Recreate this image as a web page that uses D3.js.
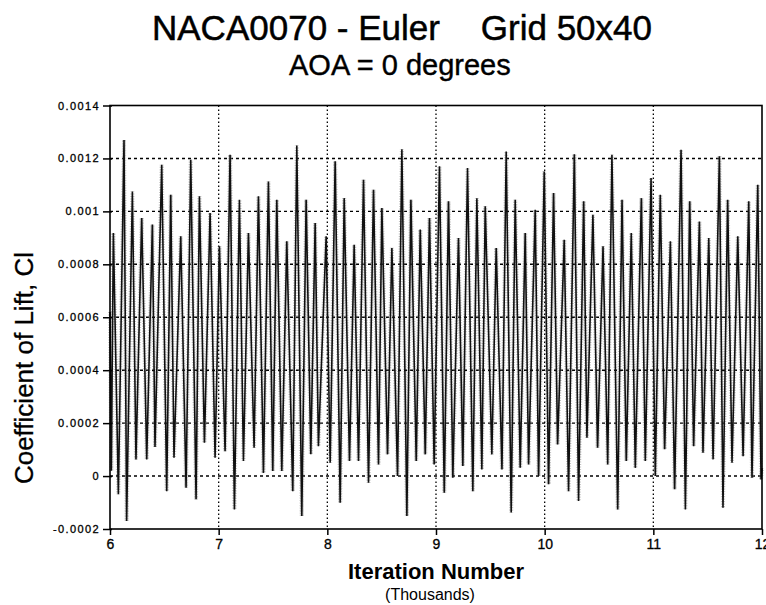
<!DOCTYPE html>
<html><head><meta charset="utf-8">
<script src="https://cdn.jsdelivr.net/npm/d3@7"></script>
<style>body{margin:0;background:#fff} svg{display:block}</style>
</head><body><svg id="c" width="766" height="605"></svg>
<script>
const titleLeft = "NACA0070 - Euler";
const titleRight = "Grid 50x40";
const subtitle = "AOA = 0 degrees";
const xLabel = "Iteration Number";
const xSubLabel = "(Thousands)";
const yLabel = "Coefficient of Lift, Cl";

const xTicks = [6, 7, 8, 9, 10, 11, 12];
const xTickLabels = ["6", "7", "8", "9", "10", "11", "12"];
const yTicks = [-0.0002, 0, 0.0002, 0.0004, 0.0006, 0.0008, 0.001, 0.0012, 0.0014];
const yTickLabels = ["-0.0002", "0", "0.0002", "0.0004", "0.0006", "0.0008", "0.001", "0.0012", "0.0014"];

// iteration (thousands) of successive extremes of the signal
const iterK = [6.000, 6.012, 6.031, 6.077, 6.129, 6.153, 6.206, 6.239, 6.292, 6.338,
  6.390, 6.414, 6.476, 6.522, 6.559, 6.589, 6.651, 6.700, 6.743, 6.792,
  6.823, 6.869, 6.921, 6.967, 7.007, 7.059, 7.105, 7.145, 7.191, 7.228,
  7.274, 7.326, 7.366, 7.412, 7.458, 7.498, 7.535, 7.581, 7.627, 7.682,
  7.719, 7.765, 7.805, 7.848, 7.888, 7.918, 7.989, 8.026, 8.072, 8.118,
  8.155, 8.204, 8.247, 8.287, 8.333, 8.379, 8.425, 8.471, 8.502, 8.554,
  8.594, 8.646, 8.686, 8.732, 8.769, 8.818, 8.855, 8.901, 8.940, 8.983,
  9.032, 9.076, 9.115, 9.155, 9.207, 9.247, 9.290, 9.339, 9.376, 9.422,
  9.453, 9.514, 9.554, 9.607, 9.646, 9.692, 9.729, 9.775, 9.821, 9.852,
  9.913, 9.944, 9.996, 10.036, 10.082, 10.119, 10.180, 10.220, 10.273, 10.312,
  10.359, 10.389, 10.444, 10.487, 10.537, 10.580, 10.619, 10.672, 10.712, 10.751,
  10.797, 10.834, 10.890, 10.926, 10.979, 11.018, 11.064, 11.104, 11.157, 11.196,
  11.255, 11.295, 11.335, 11.371, 11.424, 11.457, 11.510, 11.550, 11.608, 11.641,
  11.684, 11.724, 11.777, 11.826, 11.878, 11.908, 11.961, 11.991, 12.000];

// coefficient of lift at those extremes
const cl = [0.00062, 0.00002, 0.000918, -0.000069, 0.00127, -0.00017, 0.001075, 0.000063, 0.000975, 0.000063,
  0.00095, 0.00011, 0.001176, -0.000057, 0.001063, 0.000069, 0.000906, -0.000044, 0.001195, -0.000088,
  0.001057, 0.000126, 0.000994, 0.000069, 0.000868, 0.000094, 0.001214, -0.000126, 0.001044, 0.000057,
  0.000918, 0.000107, 0.001057, 0.000012, 0.001113, 0.000019, 0.001044, 0.000019, 0.000887, -0.000057,
  0.001249, -0.000151, 0.001044, 0.000082, 0.000956, 0.000113, 0.000906, 0.00005, 0.001189, -0.000101,
  0.00105, 0.000057, 0.000874, 0.000057, 0.001119, -0.000025, 0.001082, 0.000044, 0.001013, 0.000082,
  0.000862, 0.0, 0.001235, -0.000151, 0.001044, 0.000057, 0.000931, 0.000082, 0.000975, 0.000044,
  0.00117, -0.000063, 0.001038, -0.000006, 0.000899, 0.000038, 0.001164, -0.000057, 0.00105, 0.000025,
  0.001019, 0.000082, 0.000862, 0.000025, 0.001226, -0.000138, 0.001044, 0.000031, 0.000918, 0.000044,
  0.001006, 0.0, 0.001151, -0.000031, 0.001069, 0.000119, 0.000893, -0.000057, 0.001216, -0.000094,
  0.001038, 0.000145, 0.000987, 0.000107, 0.000868, 0.000044, 0.001214, -0.000126, 0.001044, 0.000057,
  0.000918, 0.000031, 0.00105, 0.000057, 0.001126, 0.0, 0.001063, 0.000101, 0.000887, -0.00005,
  0.001233, -0.000126, 0.001038, 0.000113, 0.000962, 0.000088, 0.000899, 0.000063, 0.001208, -0.00012,
  0.001044, 0.00005, 0.000906, 0.000075, 0.001038, -0.000006, 0.001101, -0.000013, 0.00003];

const svg = d3.select("#c");
const m = {left: 110, right: 762, top: 105.5, bottom: 529};
const font = "'Liberation Sans', Arial, Helvetica, sans-serif";

const x = d3.scaleLinear().domain([6, 12]).range([m.left, m.right]);
const y = d3.scaleLinear().domain([-0.0002, 0.0014]).range([m.bottom, m.top]);

// grid lines
const grid = svg.append("g");
grid.selectAll("line.h").data(yTicks.filter(v => v > -0.0002 && v < 0.0014)).join("line")
  .attr("x1", m.left).attr("x2", m.right)
  .attr("y1", d => y(d)).attr("y2", d => y(d))
  .attr("stroke", "#000").attr("stroke-width", 1.4).attr("stroke-dasharray", "3,3");
grid.selectAll("line.v").data(xTicks.filter(v => v > 6 && v < 12)).join("line")
  .attr("y1", m.top).attr("y2", m.bottom)
  .attr("x1", d => x(d)).attr("x2", d => x(d))
  .attr("stroke", "#000").attr("stroke-width", 1.3).attr("stroke-dasharray", "1.5,2.5");

// series: dotted grey halo (scan texture) under a solid dark trace
const pts = iterK.map((t, i) => [t, cl[i]]);
const line = d3.line().x(d => x(d[0])).y(d => y(d[1]));
svg.append("path").datum(pts)
  .attr("d", line).attr("fill", "none")
  .attr("stroke", "#777").attr("stroke-width", 4).attr("stroke-opacity", 0.45)
  .attr("stroke-dasharray", "1,1.5");
svg.append("path").datum(pts)
  .attr("d", line).attr("fill", "none")
  .attr("stroke", "#111").attr("stroke-width", 1.6).attr("stroke-linejoin", "miter");

// frame
svg.append("rect").attr("x", m.left).attr("y", m.top)
  .attr("width", m.right - m.left).attr("height", m.bottom - m.top)
  .attr("fill", "none").attr("stroke", "#000").attr("stroke-width", 1.6);

// y axis
const yAxis = d3.axisLeft(y).tickValues(yTicks)
  .tickFormat((d, i) => yTickLabels[i]).tickSize(7).tickPadding(3);
const gy = svg.append("g").attr("transform", `translate(${m.left},0)`).call(yAxis);
gy.select(".domain").remove();
gy.selectAll(".tick line").attr("stroke", "#000").attr("stroke-width", 1.5).attr("x2", -7).attr("x1", 2);
gy.selectAll(".tick text").attr("font-family", font).attr("font-size", 11)
  .attr("letter-spacing", 1.4).attr("fill", "#000")
  .attr("stroke", "#000").attr("stroke-width", 0.3);

// x axis
const xAxis = d3.axisBottom(x).tickValues(xTicks)
  .tickFormat((d, i) => xTickLabels[i]).tickSize(6).tickPadding(4);
const gx = svg.append("g").attr("transform", `translate(0,${m.bottom})`).call(xAxis);
gx.select(".domain").remove();
gx.selectAll(".tick line").attr("stroke", "#000").attr("stroke-width", 1.5);
gx.selectAll(".tick text").attr("font-family", font).attr("font-size", 14).attr("fill", "#000")
  .attr("stroke", "#000").attr("stroke-width", 0.3);

// titles
svg.append("text").attr("x", 152).attr("y", 40)
  .attr("font-family", font).attr("font-size", 35)
  .attr("stroke", "#000").attr("stroke-width", 0.5).text(titleLeft);
svg.append("text").attr("x", 652).attr("y", 40)
  .attr("text-anchor", "end").attr("font-family", font).attr("font-size", 35)
  .attr("stroke", "#000").attr("stroke-width", 0.5).text(titleRight);
svg.append("text").attr("x", 289).attr("y", 75)
  .attr("font-family", font).attr("font-size", 29)
  .attr("stroke", "#000").attr("stroke-width", 0.4).text(subtitle);

svg.append("text").attr("x", (m.left + m.right) / 2).attr("y", 579)
  .attr("text-anchor", "middle").attr("font-family", font).attr("font-weight", "bold")
  .attr("font-size", 22).text(xLabel);
svg.append("text").attr("x", 430).attr("y", 600)
  .attr("text-anchor", "middle").attr("font-family", font)
  .attr("font-size", 16).text(xSubLabel);

svg.append("text").attr("transform", "translate(33,368) rotate(-90)")
  .attr("text-anchor", "middle").attr("font-family", font)
  .attr("font-size", 26).attr("stroke", "#000").attr("stroke-width", 0.3).text(yLabel);
</script></body></html>
